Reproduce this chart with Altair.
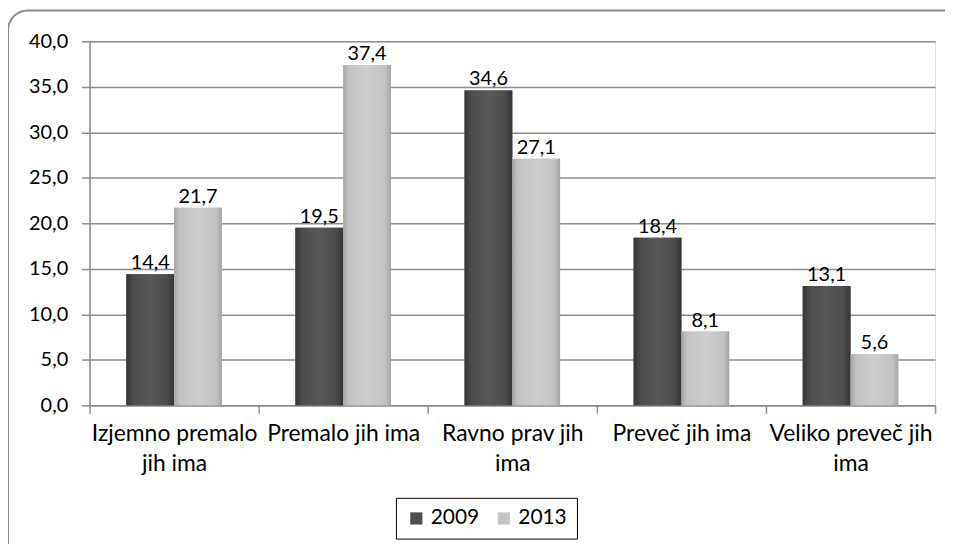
import altair as alt
import pandas as pd

categories = ["Izjemno premalo jih ima", "Premalo jih ima", "Ravno prav jih ima",
              "Preveč jih ima", "Veliko preveč jih ima"]
label_lines = [["Izjemno premalo", "jih ima"], ["Premalo jih ima"], ["Ravno prav jih", "ima"],
               ["Preveč jih ima"], ["Veliko preveč jih", "ima"]]
years = ["2009", "2013"]
values_2009 = [14.4, 19.5, 34.6, 18.4, 13.1]
values_2013 = [21.7, 37.4, 27.1, 8.1, 5.6]

rows = []
for c, a, b in zip(categories, values_2009, values_2013):
    rows.append({"cat": c, "year": "2009", "value": a})
    rows.append({"cat": c, "year": "2013", "value": b})
df = pd.DataFrame(rows)

FONT = "Lato"
FS_NUM = 20
FS_CAT = 23
FS_LEG = 21

# label expression for wrapped category labels
expr = "datum.label"
for c, lines in zip(reversed(categories), reversed(label_lines)):
    arr = "[" + ",".join("'" + l + "'" for l in lines) + "]"
    expr = f"datum.label == '{c}' ? {arr} : ({expr})"

grad_dark = alt.Gradient(gradient="linear", x1=0, x2=1, y1=0, y2=0, stops=[
    alt.GradientStop(offset=0, color="#363636"),
    alt.GradientStop(offset=0.15, color="#4c4c4c"),
    alt.GradientStop(offset=0.5, color="#585858"),
    alt.GradientStop(offset=0.85, color="#4c4c4c"),
    alt.GradientStop(offset=1, color="#353535"),
])
grad_light = alt.Gradient(gradient="linear", x1=0, x2=1, y1=0, y2=0, stops=[
    alt.GradientStop(offset=0, color="#a6a6a6"),
    alt.GradientStop(offset=0.12, color="#c2c2c2"),
    alt.GradientStop(offset=0.5, color="#cecece"),
    alt.GradientStop(offset=0.88, color="#c2c2c2"),
    alt.GradientStop(offset=1, color="#a4a4a4"),
])

x_enc = alt.X("cat:N", sort=categories, title=None,
              scale=alt.Scale(paddingInner=0, paddingOuter=0),
              axis=alt.Axis(labelAngle=0, labelExpr=expr, labelFont=FONT, labelFontSize=FS_CAT,
                            labelColor="black", labelLineHeight=31, labelPadding=9,
                            tickBand="extent", tickSize=8, tickColor="#8c8c8c", tickWidth=1.5,
                            domainColor="#8c8c8c", domainWidth=1.5, grid=False,
                            labelLimit=300))
y_enc = alt.Y("value:Q", title=None,
              scale=alt.Scale(domain=[0, 40], nice=False),
              axis=alt.Axis(values=[0, 5, 10, 15, 20, 25, 30, 35, 40], format=".1f",
                            labelFont=FONT, labelFontSize=FS_NUM, labelColor="black",
                            tickSize=8, tickColor="#8c8c8c", tickWidth=1.5, labelPadding=14,
                            domainColor="#8c8c8c", domainWidth=1.5,
                            grid=True, gridColor="#8c8c8c", gridWidth=1.5))
xo = alt.XOffset("year:N", sort=years, scale=alt.Scale(paddingInner=0.0, paddingOuter=0.77))

base = alt.Chart(df)

bars = base.mark_bar().encode(
    x=x_enc, y=y_enc, xOffset=xo,
    color=alt.Color("year:N", sort=years,
                    scale=alt.Scale(domain=years, range=["#4e4e4e", "#c4c4c4"]),
                    legend=alt.Legend(title=None, orient="none", legendX=308, legendY=459,
                                      direction="horizontal", symbolType="square",
                                      symbolSize=150, labelFont=FONT, labelFontSize=FS_LEG,
                                      labelColor="black", padding=10, strokeColor="black",
                                      columnPadding=14, symbolStrokeWidth=0)),
)
bars_dark = base.transform_filter(alt.datum.year == "2009").mark_bar(color=grad_dark).encode(
    x=x_enc, y=y_enc, xOffset=xo)
bars_light = base.transform_filter(alt.datum.year == "2013").mark_bar(color=grad_light).encode(
    x=x_enc, y=y_enc, xOffset=xo)

labels = base.mark_text(baseline="bottom", dy=-1, font=FONT, fontSize=FS_NUM, color="black").encode(
    x=x_enc, y=y_enc, xOffset=xo, text=alt.Text("value:Q", format=".1f"))

frame = alt.Chart(pd.DataFrame({"a": [0]})).mark_rect(
    fill=None, stroke="#8a8a8a", strokeWidth=2, cornerRadius=20,
    x=-82, x2=878, y=-31, y2=540).encode(opacity=alt.value(1))

chart = alt.layer(frame, bars, bars_dark, bars_light, labels).properties(
    width=850, height=366,
    autosize=alt.AutoSizeParams(type="none"),
    padding={"left": 82, "top": 32, "right": 10, "bottom": 138},
).configure_view(stroke=None).configure(
    locale={"number": {"decimal": ",", "thousands": ".", "grouping": [3], "currency": ["", " €"]}}
)

chart.save("out.html", embed_options={"renderer": "svg", "actions": False})
